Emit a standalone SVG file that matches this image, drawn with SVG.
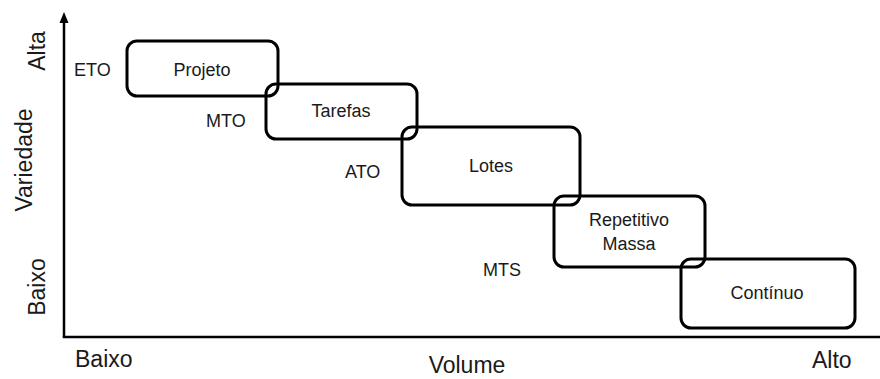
<svg xmlns="http://www.w3.org/2000/svg" width="880" height="379" viewBox="0 0 880 379">
  <style>
    .box { fill: none; stroke: #000; stroke-width: 3; }
    .axis { fill: none; stroke: #000; stroke-width: 2.5; }
    .t { font-family: "Liberation Sans", Arial, sans-serif; font-size: 18px; fill: #1a1a1a; }
    .c { text-anchor: middle; }
    .ax { font-family: "Liberation Sans", Arial, sans-serif; font-size: 23px; fill: #1a1a1a; }
  </style>
  <rect width="880" height="379" fill="#fff"/>

  <!-- axes -->
  <g id="axes">
    <path class="axis" d="M64,337 L64,22"/>
    <path d="M59.5,23 L64,12 L68.5,23 Z" fill="#000"/>
    <path class="axis" d="M62.75,337 L880,337"/>
  </g>

  <!-- axis labels -->
  <g id="axis-labels">
    <text class="ax c" transform="translate(45,51) rotate(-90)">Alta</text>
    <text class="ax c" transform="translate(32,160) rotate(-90)">Variedade</text>
    <text class="ax c" transform="translate(45,287) rotate(-90)">Baixo</text>
    <text class="ax" x="75" y="367">Baixo</text>
    <text class="ax c" x="467" y="373">Volume</text>
    <text class="ax" x="812" y="368">Alto</text>
  </g>

  <!-- process types -->
  <g id="projeto">
    <rect class="box" x="127" y="41" width="151" height="55" rx="10"/>
    <text class="t c" x="202" y="76">Projeto</text>
  </g>
  <g id="tarefas">
    <rect class="box" x="266" y="84" width="151" height="55" rx="10"/>
    <text class="t c" x="341" y="117">Tarefas</text>
  </g>
  <g id="lotes">
    <rect class="box" x="402" y="127" width="178" height="78" rx="10"/>
    <text class="t c" x="491" y="172">Lotes</text>
  </g>
  <g id="repetitivo-massa">
    <rect class="box" x="554" y="196" width="151" height="71" rx="10"/>
    <text class="t c" x="629" y="226">Repetitivo</text>
    <text class="t c" x="629" y="250">Massa</text>
  </g>
  <g id="continuo">
    <rect class="box" x="681" y="259" width="174" height="69" rx="10"/>
    <text class="t c" x="767" y="299">Contínuo</text>
  </g>

  <!-- strategy labels -->
  <g id="strategies">
    <text class="t" x="74" y="76">ETO</text>
    <text class="t" x="206" y="127">MTO</text>
    <text class="t" x="345" y="178">ATO</text>
    <text class="t" x="483" y="276">MTS</text>
  </g>
</svg>
